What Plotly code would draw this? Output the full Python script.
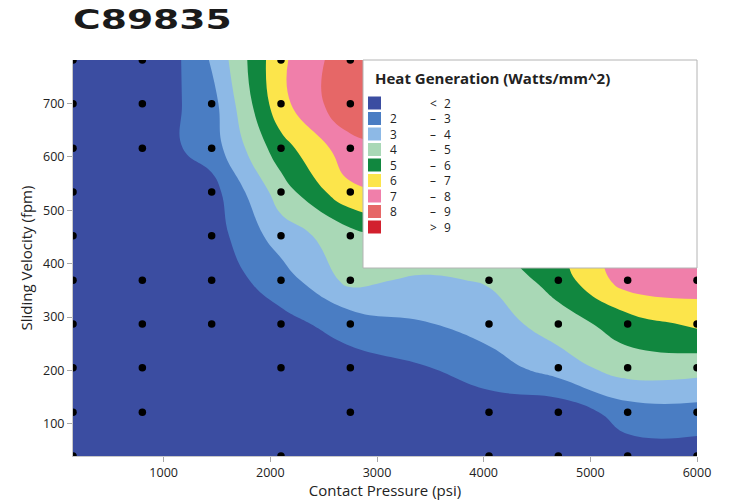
import plotly.graph_objects as go

# ---------------- data ----------------
pressure = [150, 800, 1450, 2100, 2750, 3400, 4050, 4700, 5350, 6000]
velocity = [40, 122, 205, 287, 369, 452, 534, 616, 699, 781]

# heat generation (W/mm^2), rows follow velocity (bottom -> top), columns follow pressure
heat = [
    [0.5, 0.6, 0.8, 1.0, 1.2, 1.3, 1.4, 1.5, 1.5, 1.5],
    [0.6, 0.7, 0.9, 1.1, 1.3, 1.4, 1.5, 1.3, 2.5, 2.6],
    [0.8, 1.0, 1.2, 1.4, 1.6, 1.9, 2.5, 3.5, 4.5, 4.4],
    [0.9, 1.1, 1.3, 1.7, 2.4, 2.9, 3.5, 4.5, 5.5, 6.2],
    [1.0, 1.2, 1.4, 2.5, 4.3, 3.8, 4.1, 5.5, 7.5, 7.6],
    [1.0, 1.2, 1.5, 3.5, 4.6, 5.5, 5.3, 6.0, 8.0, 8.0],
    [1.0, 1.2, 1.6, 4.5, 6.8, 7.0, 7.5, 8.0, 8.5, 8.8],
    [1.0, 1.3, 2.5, 5.6, 7.6, 8.0, 8.5, 8.8, 8.9, 8.9],
    [0.9, 1.2, 2.6, 6.7, 8.8, 8.9, 8.9, 8.9, 8.9, 8.9],
    [0.9, 0.6, 3.1, 6.8, 8.7, 8.9, 8.9, 8.9, 8.9, 8.9],
]

# measured sample locations (black dots)
dot_x = ([150] * 10
         + [800] * 7
         + [1450] * 6
         + [2100] * 9
         + [2750] * 9
         + [4050] * 4
         + [4700] * 5
         + [5350] * 5
         + [6000] * 5)
dot_y = ([40, 122, 205, 287, 369, 452, 534, 616, 699, 781]
         + [122, 205, 287, 369, 616, 699, 781]
         + [287, 369, 452, 534, 616, 699]
         + [40, 205, 287, 369, 452, 534, 616, 699, 781]
         + [122, 205, 287, 369, 452, 534, 616, 699, 781]
         + [40, 122, 287, 369]
         + [40, 122, 205, 287, 369]
         + [40, 122, 205, 287, 369]
         + [40, 122, 205, 287, 369])

legend_title = "Heat Generation (Watts/mm^2)"
levels_lo = ["", "2", "3", "4", "5", "6", "7", "8", ""]
levels_sym = ["&lt;", "–", "–", "–", "–", "–", "–", "–", "&gt;"]
levels_hi = ["2", "3", "4", "5", "6", "7", "8", "9", "9"]
band_colors = ["#3B4DA1", "#4A7DC3", "#8DB9E6", "#A9D8B6", "#11873F",
               "#FCE54B", "#F07FAA", "#E66767", "#D2202E"]

x_ticks = [1000, 2000, 3000, 4000, 5000, 6000]
y_ticks = [100, 200, 300, 400, 500, 600, 700]
chart_title = "C89835"

# ---------------- figure ----------------
W, H = 729, 500
ML, MR, MT, MB = 73, 32, 60, 44
PW, PH = W - ML - MR, H - MT - MB


def px(xp):
    return (xp - ML) / PW


def py(yp):
    return (H - MB - yp) / PH


n = len(band_colors)
colorscale = [[i / (n - 1), c] for i, c in enumerate(band_colors)]

fig = go.Figure()
fig.add_trace(go.Contour(
    x=pressure, y=velocity, z=heat,
    contours=dict(start=2, end=9, size=1, coloring="fill", showlines=False),
    line=dict(width=0, smoothing=1.3),
    colorscale=colorscale, showscale=False, hoverinfo="skip",
))
fig.add_trace(go.Scatter(
    x=dot_x, y=dot_y, mode="markers",
    marker=dict(color="black", size=7.5, line=dict(width=0)),
    hoverinfo="skip", showlegend=False,
))

font_main = "Open Sans, Noto Sans, sans-serif"
txt_col = "#222222"

fig.update_layout(
    width=W, height=H,
    margin=dict(l=ML, r=MR, t=MT, b=MB, autoexpand=False),
    paper_bgcolor="white", plot_bgcolor="white",
    showlegend=False,
    font=dict(family=font_main, color=txt_col, size=12),
    xaxis=dict(
        range=[150, 6000], tickvals=x_ticks, ticks="outside", ticklen=5,
        tickcolor="#A8A8A8", showline=True, linecolor="#C8C8C8", linewidth=1,
        showgrid=False, zeroline=False, automargin=False,
        tickfont=dict(size=12.5, color=txt_col),
        title=dict(text="Contact Pressure (psi)", font=dict(size=15, color=txt_col), standoff=4),
    ),
    yaxis=dict(
        range=[40, 781], tickvals=y_ticks, ticks="outside", ticklen=5,
        tickcolor="#A8A8A8", showline=True, linecolor="#C8C8C8", linewidth=1,
        showgrid=False, zeroline=False, automargin=False,
        tickfont=dict(size=12.5, color=txt_col),
        title=dict(text="Sliding Velocity (fpm)", font=dict(size=15, color=txt_col), standoff=6),
    ),
)

shapes = []
annotations = []

# chart title (stretched horizontally after render, see post_script)
annotations.append(dict(
    text="<b>" + chart_title + "</b>",
    xref="paper", yref="paper", x=px(71), y=py(20), xanchor="left", yanchor="middle",
    showarrow=False, font=dict(family="DejaVu Sans", size=26, color="#1A1A1A"),
))

# legend box
shapes.append(dict(type="rect", xref="paper", yref="paper",
                   x0=px(363), x1=px(697), y0=py(268), y1=py(60),
                   fillcolor="white", line=dict(color="#B4B4B4", width=1), layer="above"))
annotations.append(dict(
    text="<b>" + legend_title + "</b>",
    xref="paper", yref="paper", x=px(373), y=py(78), xanchor="left", yanchor="middle",
    showarrow=False, font=dict(family=font_main, size=15, color=txt_col),
))
row0, dy = 103, 15.5
for i in range(n):
    yc = row0 + i * dy
    shapes.append(dict(type="rect", xref="paper", yref="paper",
                       x0=px(368), x1=px(381), y0=py(yc + 6.5), y1=py(yc - 6.5),
                       fillcolor=band_colors[i], line=dict(width=0), layer="above"))

yc_mid = row0 + (n - 1) * dy / 2
for xp, col in ((388, levels_lo), (428, levels_sym), (442, levels_hi)):
    annotations.append(dict(
        text="<br>".join(t if t else "&nbsp;" for t in col),
        xref="paper", yref="paper", x=px(xp), y=py(yc_mid),
        xanchor="left", yanchor="middle", align="left", showarrow=False,
        font=dict(family=font_main, size=11.9, color=txt_col),
    ))

fig.update_layout(shapes=shapes, annotations=annotations)

post = """
document.body.style.margin = '0';
document.querySelectorAll('text.annotation-text').forEach(function (t) {
  if (t.textContent.trim() === 'C89835') {
    var b = t.getBBox();
    var s = 1.45;
    t.setAttribute('transform', 'translate(' + (b.x * (1 - s)) + ',0) scale(' + s + ',1)');
  }
});
"""
fig.write_html("out.html", post_script=post, config={"displayModeBar": False})
